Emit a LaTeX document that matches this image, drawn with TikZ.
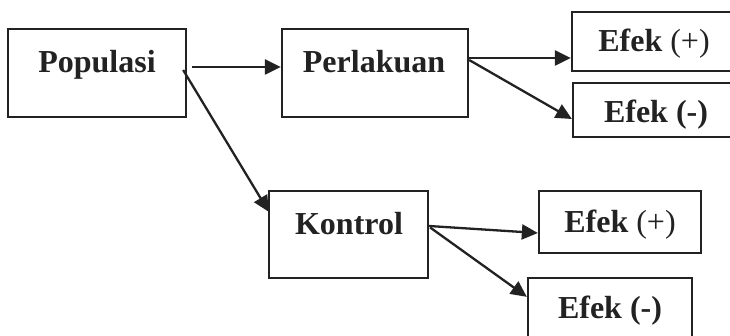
\documentclass[tikz,border=0pt]{standalone}
\usepackage{fontspec}
\setmainfont{Liberation Serif}
\usetikzlibrary{arrows.meta,calc}
\definecolor{ink}{HTML}{222222}
\tikzset{
  box/.style={draw=ink, line width=2.3pt, rectangle, inner sep=0pt, fill=white},
  lbl/.style={anchor=base, inner sep=0pt, text=ink, font=\fontsize{32}{38}\selectfont\bfseries},
  arr/.style={draw=ink, line width=2.3pt, -{Triangle[length=16pt,width=15pt]}},
}
\begin{document}
\begin{tikzpicture}[x=1pt,y=-1pt]
\useasboundingbox (0,0) rectangle (730,336);
\clip (0,0) rectangle (730,336);
% boxes
\node[box, minimum width=178pt, minimum height=88pt] (pop)  at (97,73) {};
\node[box, minimum width=186pt, minimum height=88pt] (perl) at (375,73) {};
\node[box, minimum width=188pt, minimum height=59pt] (e1)   at (666,41.5) {};
\node[box, minimum width=187pt, minimum height=54pt] (e2)   at (666.5,110) {};
\node[box, minimum width=159pt, minimum height=87pt] (kon)  at (348.5,234.5) {};
\node[box, minimum width=162pt, minimum height=62pt] (e3)   at (620,222) {};
\node[box, minimum width=164pt, minimum height=72pt] (e4)   at (610,314) {};
% labels
\node[lbl] (tpop)  at (97,73)  {Populasi};
\node[lbl] (tperl) at (374,73) {Perlakuan};
\node[lbl] (te1)   at (654,52) {Efek \mdseries(+)};
\node[lbl] (te2)   at (656,123) {Efek (-)};
\node[lbl] (tkon)  at (349,235) {Kontrol};
\node[lbl] (te3)   at (620,233) {Efek \mdseries(+)};
\node[lbl] (te4)   at (610,319) {Efek (-)};
% connectors
\draw[arr] ($(pop.east)+(5,-6)$) -- ($(perl.west)+(0,-6)$);
\draw[arr] ($(pop.east)+(-4,-3)$) -- ($(kon.north west)+(1,22)$);
\draw[arr] ($(perl.east)+(0,-15)$) -- ($(e1.west)+(0,16.5)$);
\draw[arr] ($(perl.east)+(0,-13)$) -- ($(e2.west)+(0,9)$);
\draw[arr] ($(kon.east)+(0,-8.5)$) -- ($(e3.west)+(0,11)$);
\draw[arr] ($(kon.east)+(1,-7)$) -- ($(e4.north west)+(0,20)$);
\end{tikzpicture}
\end{document}
